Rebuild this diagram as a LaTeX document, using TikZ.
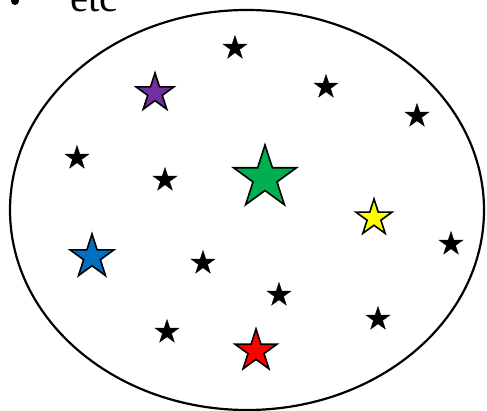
\documentclass[tikz,border=0pt]{standalone}
\usepackage{fontspec}
\setmainfont{Liberation Serif}
\usetikzlibrary{shapes.geometric}
\definecolor{stargreen}{HTML}{00B050}
\definecolor{starpurple}{HTML}{7030A0}
\definecolor{starblue}{HTML}{0070C0}
\definecolor{staryellow}{HTML}{FFFF00}
\definecolor{starred}{HTML}{FF0000}
\tikzset{
  smallstar/.style={star,star points=5,star point ratio=2.618,fill=black,draw=black,inner sep=0pt,minimum size=25pt},
  bigstar/.style={star,star points=5,star point ratio=2.618,draw=black,line width=1.6pt,inner sep=0pt}
}
\begin{document}
\begin{tikzpicture}[x=1pt,y=-1pt]
  \useasboundingbox (0,0) rectangle (487,411);
  \clip (0,0) rectangle (487,411);
  \node[circle,fill,inner sep=0pt,minimum size=8pt] (dot) at (15,1) {};
  \node[anchor=base west,inner sep=0pt,font=\fontsize{41}{45}\selectfont] (etc) at (70,12) {etc};
  \node[draw,ellipse,line width=2.2pt,minimum width=474pt,minimum height=400pt,inner sep=0pt] (set) at (247,210) {};
  % black stars
  \foreach \x/\y [count=\i] in {235/48,326/87,417/116,77/158,165/180,451/244,203/263,279/295,378/319,167/332}
    \node[smallstar] (b\i) at (\x,\y) {};
  % coloured stars
  \node[bigstar,fill=stargreen,minimum size=66pt] (green) at (265,178) {};
  \node[bigstar,fill=starpurple,minimum size=40pt] (purple) at (155,93) {};
  \node[bigstar,fill=staryellow,minimum size=38pt] (yellow) at (374,218) {};
  \node[bigstar,fill=starblue,minimum size=46pt] (blue) at (92,257) {};
  \node[bigstar,fill=starred,minimum size=44pt] (red) at (256,351) {};
\end{tikzpicture}
\end{document}
